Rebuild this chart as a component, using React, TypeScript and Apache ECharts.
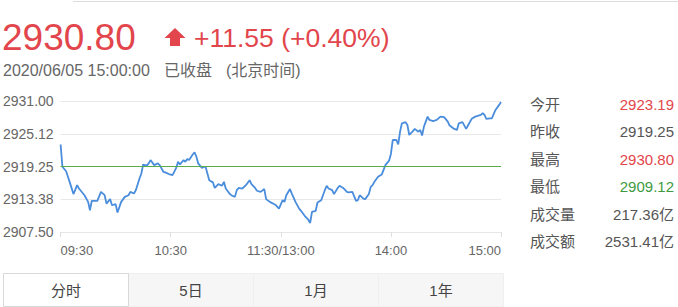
import React, { useEffect, useRef } from "react";
import * as echarts from "echarts";

const minutes = [0,1,3,5,7,9,10,13,15,16,17,20,22,24,25,27,28,30,31,33,35,37,38,40,41,43,44,45,47,48,49,51,53,54,56,57,59,61,63,64,65,67,68,69,70,72,73,74,75,77,78,79,81,83,84,86,88,89,90,92,93,95,96,97,99,101,103,104,106,107,109,111,112,114,117,119,121,122,123,125,126,128,130,131,133,135,136,137,139,140,142,144,145,146,148,149,151,152,154,156,157,159,161,162,163,165,166,168,169,170,171,173,175,177,179,180,181,183,184,185,186,188,189,190,192,193,195,196,197,198,200,201,203,205,207,209,211,212,214,216,217,219,221,222,224,226,229,230,231,232,234,235,237,239,240];
const prices = [2923.19,2919.2,2918.4,2916.4,2914.3,2915.9,2915.3,2914.1,2912.9,2911.4,2913.1,2913.1,2914.7,2914.1,2912.6,2913.4,2912.3,2912.5,2911.0,2912.9,2913.8,2914.1,2914.7,2914.4,2915.0,2917.1,2918.0,2919.6,2919.4,2919.8,2920.4,2919.5,2919.8,2919.5,2918.3,2918.2,2917.9,2917.7,2919.0,2920.1,2919.6,2920.4,2920.1,2920.6,2920.4,2921.4,2921.8,2921.0,2919.8,2919.0,2919.2,2919.2,2916.8,2916.4,2915.4,2916.1,2915.8,2916.5,2915.3,2914.4,2914.1,2913.8,2915.0,2915.4,2915.3,2915.9,2916.8,2916.1,2915.4,2914.9,2914.7,2915.2,2913.4,2912.9,2912.4,2911.7,2913.2,2912.9,2914.1,2915.2,2914.4,2912.9,2911.7,2911.3,2910.4,2909.7,2909.12,2911.1,2911.3,2912.8,2913.2,2915.0,2915.8,2915.3,2915.0,2914.3,2915.4,2915.8,2915.4,2914.7,2914.6,2914.7,2913.1,2913.2,2914.1,2913.5,2913.4,2914.3,2915.6,2915.9,2916.5,2917.4,2917.8,2919.5,2920.3,2921.5,2924.0,2924.0,2923.2,2925.5,2927.0,2927.2,2926.7,2924.9,2925.6,2926.0,2925.5,2925.8,2924.8,2926.4,2928.2,2927.6,2927.4,2927.6,2928.2,2928.1,2927.3,2926.6,2926.1,2925.8,2927.0,2927.2,2926.0,2926.6,2927.8,2928.2,2928.5,2928.8,2928.5,2927.8,2927.9,2927.9,2929.4,2930.3,2930.8];

const prevClose = 2919.25;
const yTickLabels = ["2907.50", "2913.38", "2919.25", "2925.12", "2931.00"];
const xTickLabels = ["09:30", "10:30", "11:30/13:00", "14:00", "15:00"];

const lastPrice = "2930.80";
const changeText = "+11.55 (+0.40%)";
const dateText = "2020/06/05 15:00:00";
const statusText = "已收盘";
const zoneText = "(北京时间)";

const statLabels = ["今开", "昨收", "最高", "最低", "成交量", "成交额"];
const statValues = ["2923.19", "2919.25", "2930.80", "2909.12", "217.36亿", "2531.41亿"];
const statKinds = ["up", "flat", "up", "down", "flat", "flat"];

const tabLabels = ["分时", "5日", "1月", "1年"];

const RED = "#e2454b";
const GREEN = "#3f9a3f";
const FONT = "Arial, 'Liberation Sans', 'Noto Sans CJK SC', sans-serif";

export default function App() {
  const ref = useRef<HTMLDivElement>(null);
  useEffect(() => {
    document.body.style.margin = "0";
    const chart = echarts.init(ref.current!, null, { renderer: "svg" });
    const yMin = 2907.5;
    const yInt = 5.875;

    const graphics: any[] = [];
    graphics.push({ type: "line", shape: { x1: 73, y1: 1.5, x2: 678, y2: 1.5 }, style: { stroke: "#dcdcdc", lineWidth: 1 } });
    graphics.push({ type: "text", x: 2, y: 37, style: { text: lastPrice, font: `37px ${FONT}`, fill: RED, verticalAlign: "middle" } });
    graphics.push({ type: "polygon", shape: { points: [[175, 28], [185.5, 38], [180, 38], [180, 46], [170, 46], [170, 38], [164.5, 38]] }, style: { fill: RED } });
    graphics.push({ type: "text", x: 194, y: 38, style: { text: changeText, font: `26.5px ${FONT}`, fill: RED, verticalAlign: "middle" } });
    graphics.push({ type: "text", x: 3, y: 70, style: { text: dateText, font: `16px ${FONT}`, fill: "#666", verticalAlign: "middle" } });
    graphics.push({ type: "text", x: 164, y: 70, style: { text: statusText, font: `16px ${FONT}`, fill: "#666", verticalAlign: "middle" } });
    graphics.push({ type: "text", x: 226, y: 70, style: { text: zoneText, font: `16px ${FONT}`, fill: "#666", verticalAlign: "middle" } });

    statLabels.forEach((lab, i) => {
      const y = 104 + i * 27.5;
      graphics.push({ type: "text", x: 530, y, style: { text: lab, font: `15px ${FONT}`, fill: "#555", verticalAlign: "middle" } });
      const kind = statKinds[i];
      graphics.push({ type: "text", x: 674, y, style: { text: statValues[i], font: `15px ${FONT}`, fill: kind === "up" ? RED : kind === "down" ? GREEN : "#555", align: "right", verticalAlign: "middle" } });
    });

    tabLabels.forEach((lab, i) => {
      const x = 3 + i * 125;
      const active = i === 0;
      graphics.push({ type: "rect", shape: { x: x + 0.5, y: 273.5, width: 125, height: 33 }, style: { fill: active ? "#fff" : "#f6f6f6", stroke: active ? "#d9d9d9" : "#efefef", lineWidth: 1 }, z: active ? 2 : 1 });
      graphics.push({ type: "text", x: x + 63, y: 290, z: 3, style: { text: lab, font: `15px ${FONT}`, fill: "#444", align: "center", verticalAlign: "middle" } });
    });

    chart.setOption({
      animation: false,
      grid: { left: 60, right: 177, top: 101, bottom: 75, containLabel: false },
      xAxis: {
        type: "value",
        min: 0,
        max: 240,
        interval: 60,
        axisLine: { show: true, lineStyle: { color: "#e6e6e6" } },
        axisTick: { show: true, length: 5, lineStyle: { color: "#dddddd" } },
        splitLine: { show: false },
        axisLabel: {
          color: "#666",
          fontSize: 13,
          fontFamily: FONT,
          margin: 12,
          alignMinLabel: "left",
          alignMaxLabel: "right",
          formatter: (v: number) => xTickLabels[Math.round(v / 60)] ?? "",
        },
      },
      yAxis: {
        type: "value",
        min: yMin,
        max: 2931,
        interval: yInt,
        axisLine: { show: false },
        axisTick: { show: false },
        splitLine: { show: true, lineStyle: { color: "#e8e8e8" } },
        axisLabel: {
          color: "#666",
          fontSize: 14,
          fontFamily: FONT,
          margin: 7,
          formatter: (v: number) => yTickLabels[Math.round((v - yMin) / yInt)] ?? "",
        },
      },
      series: [
        {
          type: "line",
          data: minutes.map((m, i) => [m, prices[i]]),
          showSymbol: false,
          lineStyle: { color: "#4a8ddc", width: 1.8 },
          markLine: {
            silent: true,
            symbol: "none",
            label: { show: false },
            lineStyle: { color: "#5aac4a", width: 1, type: "solid" },
            data: [{ yAxis: prevClose }],
          },
        },
      ],
      graphic: graphics,
    });
    return () => chart.dispose();
  }, []);
  return <div ref={ref} style={{ width: 678, height: 307 }} />;
}
